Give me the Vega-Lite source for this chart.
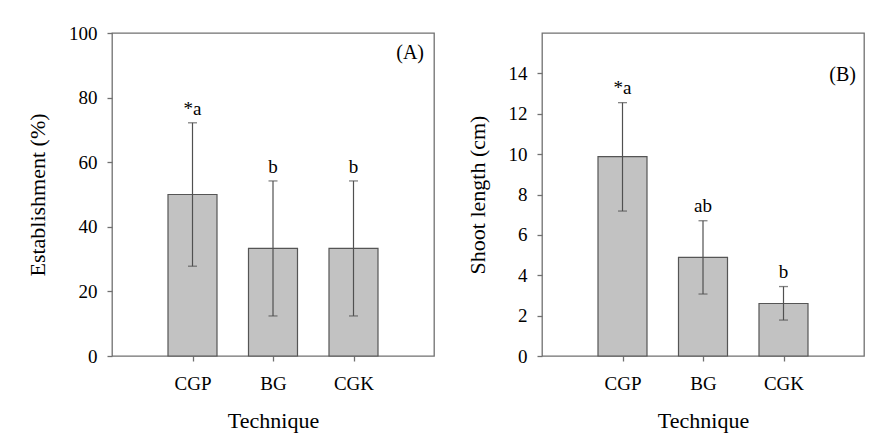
{
  "$schema": "https://vega.github.io/schema/vega-lite/v6.json",
  "background": "white",
  "padding": {"left": 25, "top": 23, "right": 5, "bottom": 5},
  "bounds": "flush",
  "spacing": 108,
  "config": {
    "font": "Liberation Serif",
    "view": {"stroke": "#707070", "strokeWidth": 1.3},
    "axis": {
      "labelFontSize": 19, "titleFontSize": 22, "titleFontWeight": "normal",
      "labelColor": "#000000", "titleColor": "#000000",
      "domain": false, "tickColor": "#707070", "tickSize": 5, "tickWidth": 1.3,
      "grid": false
    },
    "axisY": {"labelPadding": 10, "titlePadding": 19},
    "axisX": {"labelPadding": 13, "titlePadding": 17, "labelAngle": 0}
  },
  "hconcat": [
    {
      "width": 322, "height": 323,
      "data": {"values": [
        {"technique": "CGP", "mean": 50.0, "lower": 27.8, "upper": 72.2, "letter": "*a"},
        {"technique": "BG", "mean": 33.3, "lower": 12.4, "upper": 54.2, "letter": "b"},
        {"technique": "CGK", "mean": 33.3, "lower": 12.4, "upper": 54.2, "letter": "b"}
      ]},
      "encoding": {
        "x": {"field": "technique", "type": "nominal", "sort": ["CGP", "BG", "CGK"],
              "scale": {"type": "point", "padding": 1},
              "axis": {"title": "Technique", "labelFont": "Liberation Serif", "titleFont": "Liberation Serif"}}
      },
      "layer": [
        {"mark": {"type": "bar", "width": 49, "fill": "#c2c2c2", "stroke": "#555555", "strokeWidth": 1.2},
         "encoding": {"y": {"field": "mean", "type": "quantitative", "scale": {"domain": [0, 100]},
                            "axis": {"title": "Establishment (%)", "values": [0, 20, 40, 60, 80, 100], "labelFont": "Liberation Serif", "titleFont": "Liberation Serif"}}}},
        {"mark": {"type": "rule", "color": "#505050", "strokeWidth": 1.2},
         "encoding": {"y": {"field": "lower", "type": "quantitative"}, "y2": {"field": "upper"}}},
        {"mark": {"type": "tick", "size": 9, "thickness": 1.3, "color": "#505050"},
         "encoding": {"y": {"field": "upper", "type": "quantitative"}}},
        {"mark": {"type": "tick", "size": 9, "thickness": 1.3, "color": "#505050"},
         "encoding": {"y": {"field": "lower", "type": "quantitative"}}},
        {"mark": {"type": "text", "baseline": "alphabetic", "dy": -8, "fontSize": 19, "color": "#000000", "font": "Liberation Serif"},
         "encoding": {"y": {"field": "upper", "type": "quantitative"}, "text": {"field": "letter"}}},
        {"data": {"values": [{"panel": "(A)", "pos": 93.8}]},
         "mark": {"type": "text", "align": "right", "baseline": "middle", "dx": -10, "fontSize": 20, "color": "#000000", "font": "Liberation Serif"},
         "encoding": {"x": {"value": "width"}, "y": {"field": "pos", "type": "quantitative"}, "text": {"field": "panel"}}}
      ]
    },
    {
      "width": 322, "height": 323,
      "data": {"values": [
        {"technique": "CGP", "mean": 9.88, "lower": 7.18, "upper": 12.55, "letter": "*a"},
        {"technique": "BG", "mean": 4.89, "lower": 3.07, "upper": 6.70, "letter": "ab"},
        {"technique": "CGK", "mean": 2.60, "lower": 1.78, "upper": 3.44, "letter": "b"}
      ]},
      "encoding": {
        "x": {"field": "technique", "type": "nominal", "sort": ["CGP", "BG", "CGK"],
              "scale": {"type": "point", "padding": 1},
              "axis": {"title": "Technique", "labelFont": "Liberation Serif", "titleFont": "Liberation Serif"}}
      },
      "layer": [
        {"mark": {"type": "bar", "width": 49, "fill": "#c2c2c2", "stroke": "#555555", "strokeWidth": 1.2},
         "encoding": {"y": {"field": "mean", "type": "quantitative", "scale": {"domain": [0, 15]},
                            "axis": {"title": "Shoot length  (cm)", "values": [0, 2, 4, 6, 8, 10, 12, 14], "labelFont": "Liberation Serif", "titleFont": "Liberation Serif"}}}},
        {"mark": {"type": "rule", "color": "#505050", "strokeWidth": 1.2},
         "encoding": {"y": {"field": "lower", "type": "quantitative"}, "y2": {"field": "upper"}}},
        {"mark": {"type": "tick", "size": 9, "thickness": 1.3, "color": "#505050"},
         "encoding": {"y": {"field": "upper", "type": "quantitative"}}},
        {"mark": {"type": "tick", "size": 9, "thickness": 1.3, "color": "#505050"},
         "encoding": {"y": {"field": "lower", "type": "quantitative"}}},
        {"mark": {"type": "text", "baseline": "alphabetic", "dy": -9, "fontSize": 19, "color": "#000000", "font": "Liberation Serif"},
         "encoding": {"y": {"field": "upper", "type": "quantitative"}, "text": {"field": "letter"}}},
        {"data": {"values": [{"panel": "(B)", "pos": 13.93}]},
         "mark": {"type": "text", "align": "right", "baseline": "middle", "dx": -8, "fontSize": 20, "color": "#000000", "font": "Liberation Serif"},
         "encoding": {"x": {"value": "width"}, "y": {"field": "pos", "type": "quantitative"}, "text": {"field": "panel"}}}
      ]
    }
  ]
}
